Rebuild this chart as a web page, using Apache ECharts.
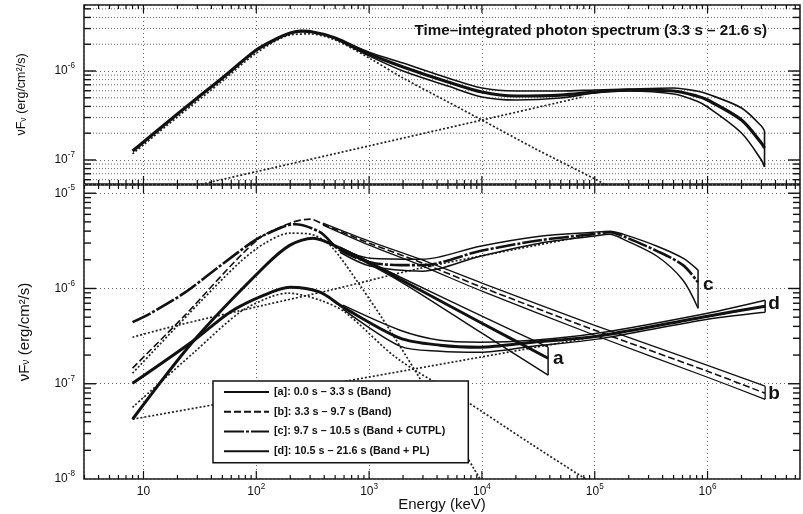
<!DOCTYPE html>
<html>
<head>
<meta charset="utf-8">
<script src="https://cdn.jsdelivr.net/npm/echarts@6/dist/echarts.min.js"></script>
<style>
  html, body { margin: 0; background: #fff; }
  #main { width: 803px; height: 514px; }
</style>
</head>
<body>
<div id="main"></div>
<script>
// energy in keV, vFv in erg/cm^2/s

// top panel: time-integrated spectrum (Band + PL)
const topE = [8, 10, 20, 30, 50, 100, 150, 200, 250, 300, 500, 1e3, 2e3, 5e3, 1e4, 2e4, 5e4, 1e5, 2e5, 5e5, 8e5, 1e6, 2e6, 3e6, 3.2e6]
const topFlux = [1.26e-7, 1.59e-7, 3.29e-7, 4.98e-7, 8.34e-7, 1.72e-6, 2.29e-6, 2.67e-6, 2.81e-6, 2.78e-6, 2.35e-6, 1.55e-6, 1.11e-6, 7.52e-7, 5.80e-7, 5.24e-7, 5.37e-7, 5.80e-7, 6.12e-7, 5.96e-7, 5.24e-7, 4.72e-7, 2.81e-7, 1.55e-7, 1.36e-7]
const topEnvE = [500, 1e3, 2e3, 5e3, 1e4, 2e4, 5e4, 1e5, 2e5, 5e5, 8e5, 1e6, 2e6, 3e6, 3.2e6]
const topUpper = [2.38e-6, 1.63e-6, 1.23e-6, 8.34e-7, 6.44e-7, 5.96e-7, 5.96e-7, 6.12e-7, 6.28e-7, 6.44e-7, 5.96e-7, 5.52e-7, 3.84e-7, 2.41e-7, 2.12e-7]
const topLower = [2.32e-6, 1.48e-6, 1.0e-6, 6.78e-7, 5.11e-7, 4.72e-7, 4.98e-7, 5.66e-7, 5.96e-7, 5.52e-7, 4.60e-7, 3.94e-7, 2.01e-7, 1.0e-7, 8.34e-8]
const topBandE = [8, 10, 20, 50, 100, 200, 300, 500, 1e3, 2e3, 5e3, 1e4, 3e4, 1e5, 1.5e5]
const topBandFlux = [1.17e-7, 1.48e-7, 3.04e-7, 7.72e-7, 1.59e-6, 2.54e-6, 2.61e-6, 2.23e-6, 1.40e-6, 8.34e-7, 4.49e-7, 2.81e-7, 1.33e-7, 6.12e-8, 4.66e-8]
const topPlE = [30, 100, 1e3, 1e4, 8e4]
const topPlFlux = [5.21e-8, 7.39e-8, 1.44e-7, 2.81e-7, 5.14e-7]

// bottom panel: time-resolved spectra a..d
const aE = [8, 28.1, 117, 199, 318, 552, 1250, 1880, 1e4, 3.86e4]
const aFlux = [4.24e-8, 2.86e-7, 1.68e-6, 2.85e-6, 3.37e-6, 2.65e-6, 1.63e-6, 1.25e-6, 4.32e-7, 1.85e-7]
const aEnvE = [552, 1880, 1e4, 3.86e4]
const aUpper = [2.72e-6, 1.32e-6, 5.12e-7, 2.42e-7]
const aLower = [2.59e-6, 1.19e-6, 3.39e-7, 1.23e-7]

const bE = [8, 22.9, 101, 199, 300, 390, 1e3, 2830, 1e4, 1e5, 1e6, 3.24e6]
const bFlux = [1.46e-7, 5.12e-7, 3.21e-6, 4.85e-6, 5.35e-6, 4.73e-6, 2.99e-6, 1.89e-6, 1.03e-6, 3.65e-7, 1.35e-7, 7.94e-8]
const bEnvE = [390, 1e3, 2830, 1e4, 1e5, 1e6, 3.24e6]
const bUpper = [4.85e-6, 3.14e-6, 2.03e-6, 1.14e-6, 4.11e-7, 1.56e-7, 9.42e-8]
const bLower = [4.62e-6, 2.85e-6, 1.76e-6, 9.37e-7, 3.23e-7, 1.17e-7, 6.87e-8]

const cE = [8, 11.6, 22.9, 44.8, 89, 117, 220, 367, 552, 1018, 1880, 3000, 9620, 3.27e4, 9.66e4, 1.37e5, 1.78e5, 3.57e5, 6.06e5, 8.24e5]
const cFlux = [4.43e-7, 5.51e-7, 8.93e-7, 1.63e-6, 2.99e-6, 3.63e-6, 4.73e-6, 3.90e-6, 2.52e-6, 1.89e-6, 1.76e-6, 1.76e-6, 2.47e-6, 3.21e-6, 3.72e-6, 3.90e-6, 3.54e-6, 2.47e-6, 1.76e-6, 1.16e-6]
const cEnvE = [552, 1018, 3000, 9620, 3.27e4, 9.66e4, 1.37e5, 1.78e5, 3.57e5, 6.06e5, 8.24e5]
const cUpper = [2.65e-6, 2.08e-6, 2.03e-6, 2.78e-6, 3.54e-6, 3.90e-6, 4.0e-6, 3.72e-6, 2.78e-6, 2.08e-6, 1.56e-6]
const cLower = [2.40e-6, 1.72e-6, 1.52e-6, 2.18e-6, 2.99e-6, 3.54e-6, 3.72e-6, 3.30e-6, 2.18e-6, 1.22e-6, 6.21e-7]
const cBandE = [8, 31.7, 71.7, 119, 199, 300, 450, 830, 1530, 3470, 9620]
const cBandFlux = [1.29e-7, 7.18e-7, 1.89e-6, 2.99e-6, 3.81e-6, 3.72e-6, 2.85e-6, 1.08e-6, 3.65e-7, 7.57e-8, 1.0e-8]
const cCutE = [8, 18.6, 117, 450, 2830, 1.45e4, 1e5]
const cCutFlux = [3.08e-7, 4.02e-7, 6.68e-7, 9.60e-7, 1.63e-6, 2.40e-6, 3.72e-6]

const dE = [8, 28.1, 58.5, 117, 199, 367, 587, 1880, 4250, 9620, 2.84e4, 1.05e5, 1e6, 3.24e6]
const dFlux = [1.01e-7, 2.86e-7, 5.64e-7, 8.51e-7, 1.03e-6, 9.14e-7, 6.37e-7, 3.01e-7, 2.54e-7, 2.42e-7, 2.73e-7, 3.15e-7, 5.12e-7, 6.52e-7]
const dEnvE = [587, 1880, 4250, 9620, 2.84e4, 1.05e5, 1e6, 3.24e6]
const dUpper = [6.68e-7, 3.65e-7, 2.86e-7, 2.73e-7, 2.86e-7, 3.39e-7, 5.51e-7, 7.54e-7]
const dLower = [6.07e-7, 2.48e-7, 2.19e-7, 2.14e-7, 2.48e-7, 2.94e-7, 4.76e-7, 5.64e-7]
const dBandE = [8, 28.1, 71.7, 132, 191, 367, 611, 1770, 6400, 2.67e4, 7.41e4, 1.2e5]
const dBandFlux = [5.66e-8, 2.14e-7, 5.64e-7, 8.11e-7, 8.93e-7, 7.54e-7, 5.64e-7, 1.85e-7, 7.21e-8, 2.37e-8, 1.09e-8, 7.7e-9]
const dPlE = [8, 3.24e6]
const dPlFlux = [4.24e-8, 6.5e-7]

const intervals = [
  '[a]: 0.0 s – 3.3 s (Band)',
  '[b]: 3.3 s – 9.7 s (Band)',
  '[c]: 9.7 s – 10.5 s (Band + CUTPL)',
  '[d]: 10.5 s – 21.6 s (Band + PL)'
]
const curveLetters = ['a', 'b', 'c', 'd']

// axis ranges and ticks
const xMin = 2.97, xMax = 6.6e6
const topMin = 5.37e-8, topMax = 5.52e-6
const botMin = 1e-8, botMax = 1.22e-5
const minorSteps = [2, 3, 4, 5, 6, 7, 8, 9]

const FONT = 'Liberation Sans'
const INK = '#111'

function logTicks(lo, hi) {
  const major = [], minor = []
  for (let n = Math.floor(Math.log10(lo)); n <= Math.ceil(Math.log10(hi)); n++) {
    const base = Math.pow(10, n)
    if (base > lo * 1.0001 && base < hi * 0.9999) major.push(base)
    minorSteps.forEach(k => { const v = k * base; if (v > lo && v < hi) minor.push(v) })
  }
  return { major, minor }
}
const xT = logTicks(xMin, xMax)
const topT = logTicks(topMin, topMax)
const botT = logTicks(botMin, botMax)

const zip = (xs, ys) => xs.map((x, i) => [x, ys[i]])
const last = a => a[a.length - 1]

function line(name, xs, ys, grid, style, extra) {
  return Object.assign({
    type: 'line', name, xAxisIndex: grid, yAxisIndex: grid,
    data: zip(xs, ys), symbol: 'none', smooth: 0.3, silent: true, z: 3,
    color: INK,
    lineStyle: Object.assign({ color: INK, width: 1.4 }, style)
  }, extra || {})
}
const dotted = { color: '#222', width: 1.7, type: [2, 2] }

function butterfly(tag, xs, up, lo, grid, style) {
  return [
    line(tag + ' upper', xs, up, grid, style),
    line(tag + ' lower', xs, lo, grid, style),
    line(tag + ' end', [last(xs), last(xs)], [last(up), last(lo)], grid, style, { smooth: false })
  ]
}

function endLabel(letter, offset) {
  return {
    show: true, formatter: letter, color: INK, fontFamily: FONT,
    fontSize: 19, fontWeight: 'bold', distance: 3, offset: offset
  }
}

// tick marks drawn inside the frame on all four sides
function xTickItem(params, api) {
  const cs = params.coordSys
  const x = api.coord([api.value(0), api.value(1)])[0]
  const len = api.value(2)
  const st = { stroke: INK, lineWidth: 1.2 }
  return { type: 'group', children: [
    { type: 'line', shape: { x1: x, y1: cs.y + cs.height, x2: x, y2: cs.y + cs.height - len }, style: st },
    { type: 'line', shape: { x1: x, y1: cs.y, x2: x, y2: cs.y + len }, style: st }
  ] }
}
function yTickItem(params, api) {
  const cs = params.coordSys
  const y = api.coord([api.value(0), api.value(1)])[1]
  const len = api.value(2)
  const st = { stroke: INK, lineWidth: 1.4 }
  return { type: 'group', children: [
    { type: 'line', shape: { x1: cs.x, y1: y, x2: cs.x + len, y2: y }, style: st },
    { type: 'line', shape: { x1: cs.x + cs.width, y1: y, x2: cs.x + cs.width - len, y2: y }, style: st }
  ] }
}
function minorGridItem(params, api) {
  const cs = params.coordSys
  const y = api.coord([api.value(0), api.value(1)])[1]
  return { type: 'line', shape: { x1: cs.x, y1: y, x2: cs.x + cs.width, y2: y },
    style: { stroke: '#666', lineWidth: 1, lineDash: [1, 2] } }
}
function custom(name, grid, render, data, z) {
  return { type: 'custom', name, xAxisIndex: grid, yAxisIndex: grid, renderItem: render,
    data, encode: { x: 0, y: 1 }, silent: true, z: z }
}
const xTickData = t => t.major.map(v => [v, 1e-6, 8]).concat(t.minor.map(v => [v, 1e-6, 4]))
const yTickData = t => t.major.map(v => [1000, v, 12]).concat(t.minor.map(v => [1000, v, 7]))

function supRich(size) {
  return {
    b: { fontSize: size, fontFamily: FONT, color: INK, lineHeight: size + 6 },
    sup: { fontSize: size * 0.68, fontFamily: FONT, color: INK, lineHeight: 9, verticalAlign: 'top' }
  }
}
function powLabel(v) {
  const n = Math.round(Math.log10(v))
  return n === 1 ? '{b|10}' : '{b|10}{sup|' + n + '}'
}
const gridDots = { show: true, lineStyle: { color: '#666', width: 1, type: [1, 3] } }

function yAxis(grid, min, max, fontSize, nameGap, showMin) {
  return {
    type: 'log', gridIndex: grid, min, max,
    name: '{t|νF}{s|ν}{t| (erg/cm²/s)}', nameLocation: 'middle', nameGap,
    nameTextStyle: { rich: {
      t: { fontSize, fontFamily: FONT, color: INK },
      s: { fontSize: fontSize * 0.7, fontFamily: FONT, color: INK, verticalAlign: 'bottom', lineHeight: fontSize * 0.9 }
    } },
    axisLine: { show: false }, axisTick: { show: false },
    axisLabel: { formatter: powLabel, rich: supRich(12), margin: 9, showMinLabel: showMin, showMaxLabel: false },
    splitLine: gridDots
  }
}

const myChart = echarts.init(document.getElementById('main'))
const option = {
  animation: false,
  backgroundColor: '#fff',
  textStyle: { fontFamily: FONT },
  title: {
    text: 'Time–integrated photon spectrum (3.3 s – 21.6 s)',
    right: 31, top: 18,
    textStyle: { fontSize: 15.2, fontWeight: 'bold', fontFamily: FONT, color: INK }
  },
  legend: {
    data: intervals, orient: 'vertical', left: 213, top: 381,
    itemWidth: 45, itemHeight: 14, itemGap: 8.5, padding: [5.5, 23, 6, 10],
    borderColor: INK, borderWidth: 1.5, backgroundColor: '#fff',
    selectedMode: false, itemStyle: { opacity: 0 },
    textStyle: { fontSize: 10.8, fontWeight: 'bold', fontFamily: FONT, color: INK }
  },
  grid: [
    { left: 84, right: 3, top: 5, height: 179, show: true, borderColor: INK, borderWidth: 1.5, outerBoundsMode: 'none' },
    { left: 84, right: 3, top: 185, height: 294, show: true, borderColor: INK, borderWidth: 1.5, outerBoundsMode: 'none' }
  ],
  xAxis: [
    { type: 'log', gridIndex: 0, min: xMin, max: xMax, axisLine: { show: false }, axisTick: { show: false },
      axisLabel: { show: false }, splitLine: gridDots },
    { type: 'log', gridIndex: 1, min: xMin, max: xMax, axisLine: { show: false }, axisTick: { show: false },
      name: 'Energy (keV)', nameLocation: 'middle', nameGap: 18, nameMoveOverlap: false,
      nameTextStyle: { fontSize: 15, fontFamily: FONT, color: INK },
      axisLabel: { formatter: powLabel, rich: supRich(12), margin: 4, showMinLabel: false, showMaxLabel: false },
      splitLine: gridDots }
  ],
  yAxis: [
    yAxis(0, topMin, topMax, 12.5, 56, false),
    yAxis(1, botMin, botMax, 15, 52, true)
  ],
  series: [
    custom('top minor grid', 0, minorGridItem, topT.minor.map(v => [1000, v]), 1),
    custom('top x ticks', 0, xTickItem, xTickData(xT), 5),
    custom('top y ticks', 0, yTickItem, yTickData(topT), 5),
    custom('bottom x ticks', 1, xTickItem, xTickData(xT), 5),
    custom('bottom y ticks', 1, yTickItem, yTickData(botT), 5),

    // top panel
    line('integrated Band', topBandE, topBandFlux, 0, dotted),
    line('integrated PL', topPlE, topPlFlux, 0, dotted),
    line('integrated total', topE, topFlux, 0, { width: 3.2 }),
    ...butterfly('integrated', topEnvE, topUpper, topLower, 0, { width: 1.6 }),

    // bottom panel components
    line('c Band', cBandE, cBandFlux, 1, dotted),
    line('c CUTPL', cCutE, cCutFlux, 1, dotted),
    line('d Band', dBandE, dBandFlux, 1, dotted),
    line('d PL', dPlE, dPlFlux, 1, dotted, { smooth: false }),

    // bottom panel spectra
    line(intervals[0], aE, aFlux, 1, { width: 3 }, { endLabel: endLabel(curveLetters[0], [2, 0]) }),
    ...butterfly('a', aEnvE, aUpper, aLower, 1, { width: 1.5 }),
    line(intervals[1], bE, bFlux, 1, { width: 1.6, type: [7, 3] }, { endLabel: endLabel(curveLetters[1], [0, 0]) }),
    ...butterfly('b', bEnvE, bUpper, bLower, 1, { width: 1.3 }),
    line(intervals[2], cE, cFlux, 1, { width: 2.6, type: [20, 2, 3, 2] }, { endLabel: endLabel(curveLetters[2], [2, 2]) }),
    ...butterfly('c', cEnvE, cUpper, cLower, 1, { width: 1.5 }),
    line(intervals[3], dE, dFlux, 1, { width: 3 }, { endLabel: endLabel(curveLetters[3], [0, -2]) }),
    ...butterfly('d', dEnvE, dUpper, dLower, 1, { width: 1.5 })
  ]
}

option && myChart.setOption(option)

window.addEventListener('resize', function () {
  myChart.resize()
})
</script>
</body>
</html>
